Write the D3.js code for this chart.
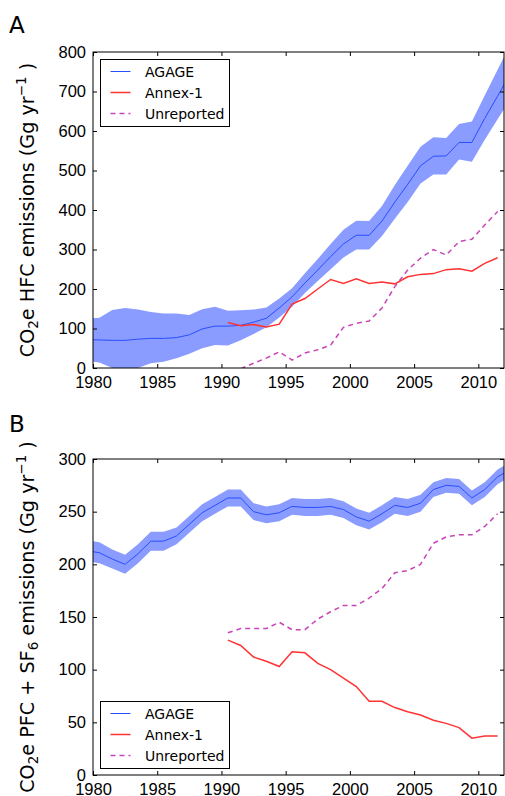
<!DOCTYPE html>
<html>
<head>
<meta charset="utf-8">
<script src="https://cdn.jsdelivr.net/npm/d3@7"></script>
<style>
  body { margin: 0; background: white; }
  svg { font-family: 'DejaVu Sans', sans-serif; }
</style>
</head>
<body>
<svg width="505" height="796"></svg>
<script>
// Mid-year sample points (the plot clips the first and last)
const years = [1979.5, 1980.5, 1981.5, 1982.5, 1983.5, 1984.5, 1985.5, 1986.5, 1987.5, 1988.5,
  1989.5, 1990.5, 1991.5, 1992.5, 1993.5, 1994.5, 1995.5, 1996.5, 1997.5, 1998.5,
  1999.5, 2000.5, 2001.5, 2002.5, 2003.5, 2004.5, 2005.5, 2006.5, 2007.5, 2008.5,
  2009.5, 2010.5, 2011.5, 2012.5];
const annexYears = years.slice(11, 33);   // 1990.5 - 2011.5
const unrepYearsA = years.slice(12, 33);  // 1991.5 - 2011.5

// Panel A: HFC
const agageA = [72, 71, 70, 70, 73, 75, 75, 77, 84, 99,
  106, 106, 108, 116, 126, 152, 180, 215, 248, 282,
  314, 336, 336, 372, 420, 465, 512, 536, 537, 571,
  571, 632, 688, 745];
const agageAHigh = [125, 127, 147, 152, 148, 142, 138, 138, 134, 149,
  155, 145, 146, 148, 153, 176, 202, 240, 276, 314,
  350, 373, 372, 410, 463, 512, 560, 584, 582, 618,
  624, 690, 755, 820];
const agageALow = [18, 14, 0, -8, 0, 12, 16, 25, 36, 50,
  58, 57, 70, 86, 103, 128, 155, 190, 220, 250,
  280, 300, 300, 334, 378, 420, 467, 490, 490, 528,
  522, 578, 630, 680];
const annexA = [115, 107, 110, 104, 111, 162, 176, 200, 224, 214,
  226, 214, 218, 213, 231, 237, 239, 249, 251, 245, 265, 279];
const unrepA = [-2, 12, 25, 41, 20, 38, 46, 58, 103, 113,
  119, 152, 206, 248, 278, 300, 286, 320, 326, 362, 396];

// Panel B: PFC + SF6
const agageB = [213, 211, 205, 200, 210, 222, 222, 227, 238, 249,
  256, 263, 263, 250, 247, 249, 255, 254, 254, 255,
  252, 245, 241, 248, 256, 254, 258, 271, 275, 274,
  263, 271, 283, 290];
const agageBHigh = [223, 221, 214, 209, 219, 231, 231, 235, 246, 257,
  264, 271, 271, 258, 255, 257, 263, 262, 262, 263,
  260, 253, 249, 256, 264, 262, 266, 278, 282, 281,
  270, 278, 290, 297];
const agageBLow = [203, 201, 196, 191, 201, 213, 213, 219, 230, 241,
  248, 255, 255, 242, 239, 241, 247, 246, 246, 247,
  244, 237, 233, 240, 248, 246, 250, 264, 268, 267,
  256, 264, 276, 283];
const annexB = [128, 123, 112, 108, 103, 117, 116, 106, 100, 92,
  84, 70, 70, 64, 60, 57, 52, 49, 45, 35, 37, 37];
const unrepB = [135, 139, 139, 139, 145, 138, 138, 148, 155, 161,
  161, 168, 177, 192, 194, 200, 220, 226, 228, 228, 236, 248];

const xTicks = [1980, 1985, 1990, 1995, 2000, 2005, 2010];
const yTicksA = [0, 100, 200, 300, 400, 500, 600, 700, 800];
const yTicksB = [0, 50, 100, 150, 200, 250, 300];
const legendLabels = ['AGAGE', 'Annex-1', 'Unreported'];

const bandColor = '#8a9cff';
const agageColor = '#2a4dff';
const annexColor = '#ff3333';
const unrepColor = '#c845b8';

const svg = d3.select('svg');

function drawPanel(opts) {
  const { id, letter, letterY, top, bottom, yMax, yTicks, mean, high, low, annex, unrep, unrepYears, legendTop, label } = opts;
  const left = 93, right = 504;

  const x = d3.scaleLinear().domain([1980, 2012]).range([left, right]);
  const y = d3.scaleLinear().domain([0, yMax]).range([bottom, top]);

  svg.append('clipPath').attr('id', 'clip' + id)
    .append('rect').attr('x', left).attr('y', top).attr('width', right - left).attr('height', bottom - top);

  const plot = svg.append('g').attr('clip-path', `url(#clip${id})`);

  const band = years.map((yr, i) => ({ yr, lo: low[i], hi: high[i] }));
  plot.append('path')
    .datum(band)
    .attr('fill', bandColor)
    .attr('d', d3.area().x(d => x(d.yr)).y0(d => y(d.lo)).y1(d => y(d.hi)));

  const line = d3.line().x(d => x(d[0])).y(d => y(d[1]));

  plot.append('path')
    .datum(d3.zip(years, mean))
    .attr('fill', 'none').attr('stroke', agageColor).attr('stroke-width', 1)
    .attr('d', line);

  plot.append('path')
    .datum(d3.zip(annexYears, annex))
    .attr('fill', 'none').attr('stroke', annexColor).attr('stroke-width', 1.5)
    .attr('d', line);

  plot.append('path')
    .datum(d3.zip(unrepYears, unrep))
    .attr('fill', 'none').attr('stroke', unrepColor).attr('stroke-width', 1.5)
    .attr('stroke-dasharray', '5,4')
    .attr('d', line);

  // Axes, ticks pointing inward on all four sides
  const fmt = d3.format('d');
  const bottomAxis = svg.append('g').attr('transform', `translate(0,${bottom})`)
    .call(d3.axisBottom(x).tickValues(xTicks).tickFormat(fmt).tickSize(-4).tickSizeOuter(0).tickPadding(8));
  const leftAxis = svg.append('g').attr('transform', `translate(${left},0)`)
    .call(d3.axisLeft(y).tickValues(yTicks).tickSize(-4).tickSizeOuter(0).tickPadding(7));
  svg.append('g').attr('transform', `translate(0,${top})`)
    .call(d3.axisTop(x).tickValues(xTicks).tickFormat('').tickSize(-4).tickSizeOuter(0));
  svg.append('g').attr('transform', `translate(${right},0)`)
    .call(d3.axisRight(y).tickValues(yTicks).tickFormat('').tickSize(-4).tickSizeOuter(0));

  svg.selectAll('.domain').remove();
  svg.selectAll('.tick line').attr('stroke', 'black');
  bottomAxis.selectAll('text').attr('font-size', '16.5px').attr('fill', 'black');
  leftAxis.selectAll('text').attr('font-size', '16.5px').attr('fill', 'black');

  svg.append('rect')
    .attr('x', left).attr('y', top).attr('width', right - left).attr('height', bottom - top)
    .attr('fill', 'none').attr('stroke', 'black').attr('stroke-width', 1);

  // Panel letter
  svg.append('text').attr('x', 9).attr('y', letterY)
    .attr('font-size', '23px').text(letter);

  // Y axis label with sub/superscripts
  const lab = svg.append('text')
    .attr('transform', `translate(34,${(top + bottom) / 2}) rotate(-90)`)
    .attr('text-anchor', 'middle')
    .attr('font-size', '19.2px');
  label.forEach(part => {
    const t = lab.append('tspan').text(part.t);
    if (part.sub) t.attr('font-size', '13.5px').attr('baseline-shift', '-25%');
    if (part.sup) t.attr('font-size', '13.5px').attr('baseline-shift', '55%');
  });

  // Legend
  const lg = svg.append('g').attr('transform', `translate(100.5,${legendTop + 0.5})`);
  lg.append('rect').attr('width', 129).attr('height', 67)
    .attr('fill', 'white').attr('stroke', 'black').attr('stroke-width', 1);
  const styles = [
    { c: agageColor, w: 1, dash: null },
    { c: annexColor, w: 1.5, dash: null },
    { c: unrepColor, w: 1.5, dash: '5,4' }
  ];
  legendLabels.forEach((name, i) => {
    const ry = 12 + i * 21;
    lg.append('line').attr('x1', 10).attr('x2', 30).attr('y1', ry).attr('y2', ry)
      .attr('stroke', styles[i].c).attr('stroke-width', styles[i].w)
      .attr('stroke-dasharray', styles[i].dash);
    lg.append('text').attr('x', 44.5).attr('y', ry + 5).attr('font-size', '14px').text(name);
  });
}

drawPanel({
  id: 'A', letter: 'A', letterY: 33, top: 52, bottom: 368, yMax: 800, yTicks: yTicksA,
  mean: agageA, high: agageAHigh, low: agageALow, annex: annexA, unrep: unrepA, unrepYears: unrepYearsA,
  legendTop: 59,
  label: [{ t: 'CO' }, { t: '2', sub: true }, { t: 'e HFC emissions (Gg yr' }, { t: '\u22121', sup: true }, { t: ' )' }]
});

drawPanel({
  id: 'B', letter: 'B', letterY: 432, top: 459, bottom: 775, yMax: 300, yTicks: yTicksB,
  mean: agageB, high: agageBHigh, low: agageBLow, annex: annexB, unrep: unrepB, unrepYears: annexYears,
  legendTop: 701,
  label: [{ t: 'CO' }, { t: '2', sub: true }, { t: 'e PFC + SF' }, { t: '6', sub: true }, { t: ' emissions (Gg yr' }, { t: '\u22121', sup: true }, { t: ' )' }]
});
</script>
</body>
</html>
